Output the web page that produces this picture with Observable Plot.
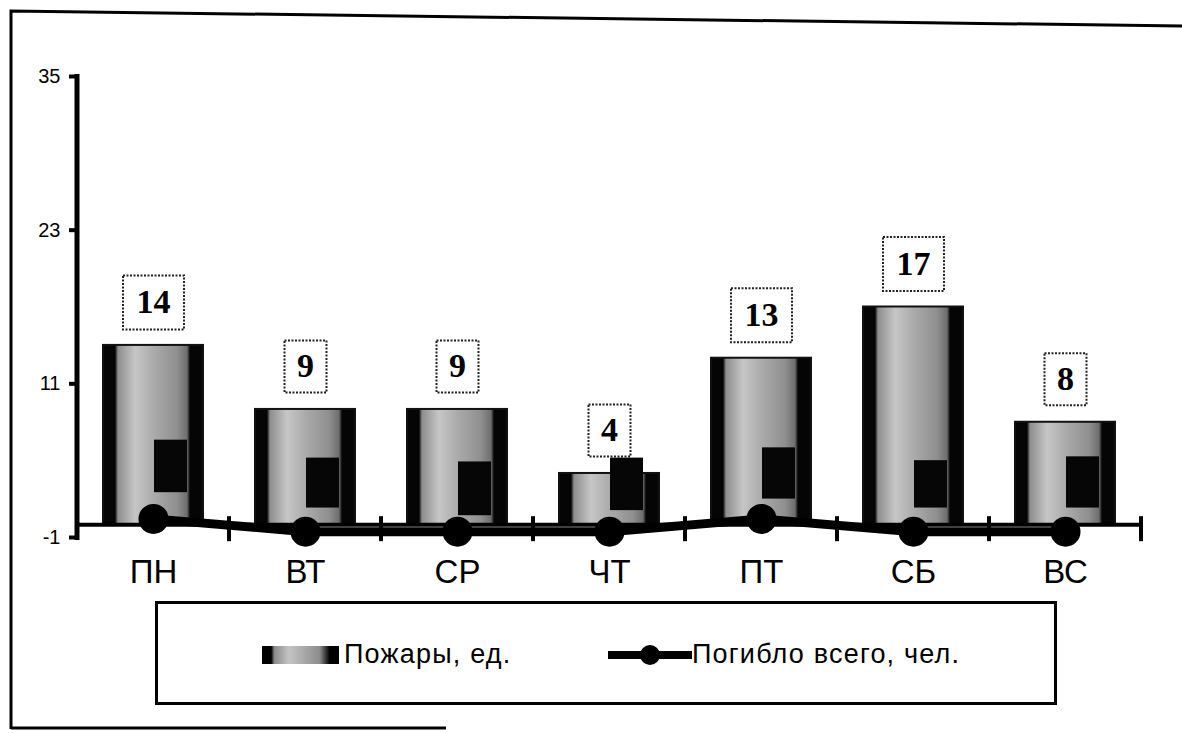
<!DOCTYPE html>
<html>
<head>
<meta charset="utf-8">
<script src="https://cdn.jsdelivr.net/npm/d3@7"></script>
<script src="https://cdn.jsdelivr.net/npm/@observablehq/plot@0.6"></script>
<style>
  body { margin: 0; background: #fff; }
  #wrap { position: relative; width: 1182px; height: 733px; background: #fff; overflow: hidden; font-family: "Liberation Sans", Arial, sans-serif; }
  #frame { position: absolute; left: 0; top: 0; }
  #chart { position: absolute; left: 0; top: 0; }
  #legend { position: absolute; left: 155px; top: 601px; width: 902px; height: 104px; border: 3px solid #000; box-sizing: border-box; }
  .lg { position: absolute; font-size: 27px; line-height: 30px; letter-spacing: 1.2px; color: #000; white-space: nowrap; }
</style>
</head>
<body>
<div id="wrap">
  <svg id="frame" width="1182" height="733">
    <path d="M11,729 L11,11 L1182,26" fill="none" stroke="#000" stroke-width="3"/>
    <path d="M11,728 L446,728" fill="none" stroke="#000" stroke-width="3"/>
  </svg>
  <div id="chart"></div>
  <div id="legend"></div>
  <div style="position:absolute;left:262px;top:646px;width:77px;height:18px;background:linear-gradient(90deg,#000 0%,#000 12%,#8a8a8a 16%,#c4c4c4 35%,#a8a8a8 55%,#8c8c8c 75%,#000 88%,#000 100%);"></div>
  <div class="lg" style="left:344px;top:639px;">Пожары, ед.</div>
  <svg style="position:absolute;left:604px;top:640px" width="90" height="30">
    <line x1="4" y1="15" x2="88" y2="15" stroke="#000" stroke-width="8"/>
    <circle cx="46" cy="15" r="10" fill="#000"/>
  </svg>
  <div class="lg" style="left:692px;top:639px;">Погибло всего, чел.</div>
</div>
<script>
const days = ["ПН", "ВТ", "СР", "ЧТ", "ПТ", "СБ", "ВС"];
const fires = [14, 9, 9, 4, 13, 17, 8];
const dead = [1, 0, 0, 0, 1, 0, 0];
const shadeTop = [6.6, 5.2, 4.9, 5.2, 6.0, 5.0, 5.3];
const shadeBottom = [2.5, 1.3, 0.7, 1.1, 2.0, 1.3, 1.3];
const yTicks = [-1, 11, 23, 35];

const data = days.map((d, i) => ({day: d, fires: fires[i], dead: dead[i], top: shadeTop[i], bottom: shadeBottom[i]}));

const PADIN = 0.34;

function defsMark() {
  const defs = d3.create("svg:defs");
  const g = defs.append("linearGradient").attr("id", "barGrad").attr("x1", "0").attr("x2", "1").attr("y1", "0").attr("y2", "0");
  [[0, "#050505"], [0.12, "#050505"], [0.15, "#8e8e8e"], [0.32, "#c6c6c6"], [0.52, "#a9a9a9"], [0.74, "#8f8f8f"], [0.84, "#6e6e6e"], [0.87, "#050505"], [1, "#050505"]]
    .forEach(([o, c]) => g.append("stop").attr("offset", o).attr("stop-color", c));
  return defs.node();
}

function axesMark(index, scales, values, dimensions) {
  const {x, y} = scales;
  const g = d3.create("svg:g");
  const ml = dimensions.marginLeft;
  g.append("line").attr("x1", ml).attr("x2", ml)
    .attr("y1", y(d3.max(yTicks)) - 2).attr("y2", y(d3.min(yTicks)) + 3)
    .attr("stroke", "#000").attr("stroke-width", 5);
  const step = x(days[1]) - x(days[0]);
  const bw = typeof x.bandwidth === "function" ? x.bandwidth() : step * (1 - PADIN);
  const y0 = y(0);
  days.forEach(d => {
    const px = x(d) + bw + (step - bw) / 2;
    g.append("line").attr("x1", px).attr("x2", px).attr("y1", y0 - 8).attr("y2", y0 + 17)
      .attr("stroke", "#000").attr("stroke-width", 4);
  });
  return g.node();
}

const boxSym = (w, h) => ({draw(ctx) { ctx.rect(-w / 2, -h / 2, w, h); }});

const chart = Plot.plot({
  width: 1182,
  height: 600,
  marginLeft: 77,
  marginRight: 40,
  marginTop: 76,
  marginBottom: 63,
  style: {fontFamily: "'Liberation Sans', Arial, sans-serif", background: "transparent", overflow: "visible"},
  x: {domain: days, type: "band", paddingInner: PADIN, paddingOuter: PADIN / 2, label: null},
  y: {domain: [-1, 35], label: null},
  marks: [
    defsMark,
    Plot.axisY({ticks: yTicks, tickFormat: d => String(d), tickSize: 8, tickPadding: 9, fontSize: 20, strokeWidth: 4, label: null, fill: "#000"}),
    Plot.axisX({tickSize: 0, tickPadding: 22, fontSize: 33, label: null, fill: "#000"}),
    Plot.barY(data, {x: "day", y: "fires", fill: "url(#barGrad)", stroke: "#111", strokeWidth: 2}),
    Plot.barY(data, {x: "day", y1: "bottom", y2: "top", fill: "#060606", insetLeft: 51, insetRight: 16}),
    Plot.ruleY([0], {stroke: "#000", strokeWidth: 4}),
    axesMark,
    Plot.line(data, {x: "day", y: "dead", stroke: "#000", strokeWidth: 9, dy: 7}),
    Plot.dot(data, {x: "day", y: "dead", r: 15, fill: "#000", dy: 7}),
    Plot.dot(data.filter(d => d.fires < 10), {x: "day", y: "fires", dy: -43, symbol: boxSym(42, 52), fill: "#fff", stroke: "#222", strokeWidth: 2, strokeDasharray: "2 1.5"}),
    Plot.dot(data.filter(d => d.fires >= 10), {x: "day", y: "fires", dy: -43, symbol: boxSym(61, 54), fill: "#fff", stroke: "#222", strokeWidth: 2, strokeDasharray: "2 1.5"}),
    Plot.text(data, {x: "day", y: "fires", text: d => String(d.fires), dy: -43, fontSize: 34, fontWeight: "bold", fontFamily: "'Liberation Serif', 'Times New Roman', serif", fill: "#000"})
  ]
});
document.getElementById("chart").appendChild(chart);
</script>
</body>
</html>
